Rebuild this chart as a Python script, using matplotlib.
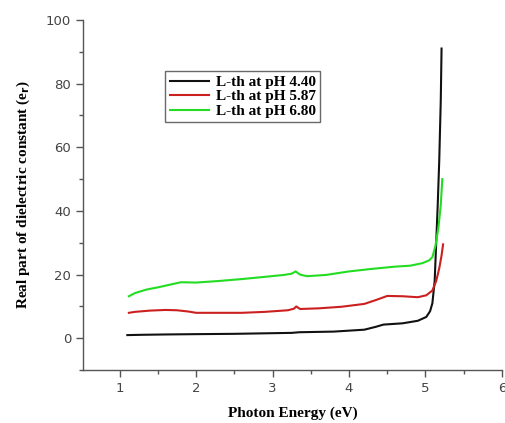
import matplotlib
matplotlib.use("Agg")
import matplotlib.pyplot as plt
from matplotlib.ticker import MultipleLocator

# Photon energy (eV) sample points for each curve
energy_a = [1.10, 1.30, 1.60, 2.00, 2.50, 3.00, 3.25, 3.35, 3.80, 4.20, 4.35, 4.45, 4.70, 4.90,
            5.01, 5.06, 5.09, 5.12, 5.14, 5.16, 5.18, 5.20, 5.21]
eps_a = [1.0, 1.1, 1.2, 1.3, 1.4, 1.6, 1.7, 1.9, 2.1, 2.7, 3.6, 4.3, 4.7, 5.5,
         6.7, 8.5, 11.0, 18.0, 30.0, 42.0, 56.0, 75.0, 91.0]

energy_b = [1.12, 1.20, 1.40, 1.60, 1.75, 1.90, 2.00, 2.30, 2.60, 2.90, 3.20, 3.28, 3.31, 3.36,
            3.60, 3.90, 4.20, 4.35, 4.50, 4.70, 4.90, 5.01, 5.09, 5.14, 5.18, 5.21, 5.23]
eps_b = [8.0, 8.3, 8.7, 8.9, 8.8, 8.4, 8.0, 8.0, 8.0, 8.3, 8.8, 9.3, 10.0, 9.2,
         9.4, 9.9, 10.8, 12.0, 13.3, 13.2, 12.9, 13.5, 15.0, 18.0, 22.0, 26.0, 29.5]

energy_c = [1.12, 1.20, 1.35, 1.50, 1.65, 1.80, 2.00, 2.30, 2.60, 2.90, 3.15, 3.25, 3.30, 3.36,
            3.45, 3.70, 4.00, 4.30, 4.60, 4.80, 4.96, 5.05, 5.09, 5.13, 5.17, 5.20, 5.22]
eps_c = [13.2, 14.2, 15.3, 16.0, 16.8, 17.6, 17.5, 18.0, 18.6, 19.3, 19.9, 20.3, 21.0, 20.0,
         19.5, 19.9, 21.0, 21.8, 22.5, 22.8, 23.6, 24.5, 25.5, 29.0, 35.0, 42.0, 50.0]

labels = ["L-th at pH 4.40", "L-th at pH 5.87", "L-th at pH 6.80"]
colors = ["#111111", "#cc2020", "#22dd22"]

fig = plt.figure(figsize=(5.06, 4.23), dpi=100)
ax = fig.add_axes([0.164, 0.125, 0.828, 0.828])

for x, y, lab, c in zip([energy_a, energy_b, energy_c], [eps_a, eps_b, eps_c], labels, colors):
    ax.plot(x, y, color=c, lw=1.5, label=lab)

ax.set_xlim(0.52, 6.0)
ax.set_ylim(-10, 100)
ax.xaxis.set_major_locator(MultipleLocator(1))
ax.xaxis.set_minor_locator(MultipleLocator(0.5))
ax.yaxis.set_major_locator(MultipleLocator(20))
ax.yaxis.set_minor_locator(MultipleLocator(10))
ax.set_xticks([1, 2, 3, 4, 5, 6])
ax.set_yticks([0, 20, 40, 60, 80, 100])

for s in ["top", "right"]:
    ax.spines[s].set_visible(False)
for s in ["left", "bottom"]:
    ax.spines[s].set_color("#555555")
    ax.spines[s].set_linewidth(1.0)

ax.tick_params(which="major", direction="out", length=5, width=1, colors="#555555",
               labelsize=9.5, labelcolor="#444444")
ax.tick_params(which="minor", direction="out", length=3, width=1, colors="#555555")

serif = ["Liberation Serif", "DejaVu Serif"]
ax.set_xlabel("Photon Energy (eV)", family=serif, fontweight="bold", fontsize=11, labelpad=8)
ax.set_ylabel(r"Real part of dielectric constant (e$_\mathbf{r}$)", family=serif,
              fontweight="bold", fontsize=11, labelpad=10)

leg = ax.legend(loc="upper left", bbox_to_anchor=(0.196, 0.855), borderaxespad=0,
                frameon=True, fancybox=False, edgecolor="#444444",
                handlelength=2.6, handletextpad=0.4, borderpad=0.3, labelspacing=0.05,
                prop={"family": serif, "weight": "bold", "size": 11})
leg.get_frame().set_linewidth(1.0)

fig.savefig("out.png", dpi=100)
